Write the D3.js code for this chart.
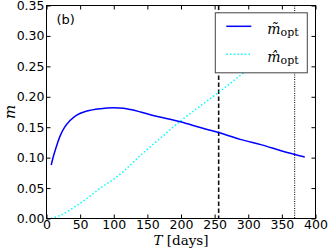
<!DOCTYPE html>
<html>
<head>
<meta charset="utf-8">
<script src="https://cdn.jsdelivr.net/npm/d3@7"></script>
<style>
  body { margin: 0; background: #fff; }
  .tick text { font-family: "DejaVu Sans", sans-serif; font-size: 12.5px; fill: #000; }
  .tick line { stroke: #000; }
  .domain { display: none; }
</style>
</head>
<body>
<div id="chart"></div>
<script>
// data
const tildeT = [7, 10, 14, 20, 27, 35, 45, 60, 80, 100, 115, 125, 140, 160, 180, 199, 230, 257, 288, 320, 350, 384];
const tildeM = [0.088, 0.101, 0.116, 0.135, 0.150, 0.161, 0.170, 0.1765, 0.1805, 0.182, 0.181, 0.179, 0.175, 0.169, 0.164, 0.159, 0.149, 0.141, 0.130, 0.121, 0.111, 0.101];
const hatT = [7, 20, 35, 50, 65, 80, 98, 115, 140, 162, 199, 230, 257, 288, 320, 350, 384];
const hatM = [0, 0.005, 0.014, 0.025, 0.037, 0.050, 0.063, 0.078, 0.104, 0.125, 0.160, 0.186, 0.208, 0.235, 0.262, 0.288, 0.318];
const markT = [256, 369];
const xTicks = [0, 50, 100, 150, 200, 250, 300, 350, 400];
const yTicks = [0, 0.05, 0.10, 0.15, 0.20, 0.25, 0.30, 0.35];
const seriesNames = ["\u0303", "\u0302"];

const W = 332, H = 249;
const margin = {top: 5.5, right: 16.5, bottom: 30.5, left: 46.5};
const width = W - margin.left - margin.right;
const height = H - margin.top - margin.bottom;

const svg = d3.select("#chart")
    .append("svg")
    .attr("width", W)
    .attr("height", H)
    .append("g")
    .attr("transform", `translate(${margin.left},${margin.top})`);

const x = d3.scaleLinear().domain([0, 400]).range([0, width]);
const y = d3.scaleLinear().domain([0, 0.35]).range([height, 0]);

svg.append("clipPath").attr("id", "clip")
    .append("rect").attr("width", width).attr("height", height);

// axes, ticks pointing in on all four sides
svg.append("g")
    .attr("transform", `translate(0,${height})`)
    .call(d3.axisBottom(x).tickValues(xTicks).tickSize(-4).tickPadding(2).tickFormat(d3.format("d")));
svg.append("g")
    .call(d3.axisTop(x).tickValues(xTicks).tickSize(-4).tickFormat(""));
svg.append("g")
    .call(d3.axisLeft(y).tickValues(yTicks).tickSize(-4).tickPadding(2).tickFormat(d3.format(".2f")));
svg.append("g")
    .attr("transform", `translate(${width},0)`)
    .call(d3.axisRight(y).tickValues(yTicks).tickSize(-4).tickFormat(""));

const plot = svg.append("g").attr("clip-path", "url(#clip)");

// vertical markers
plot.selectAll(".vmark")
    .data(markT)
    .enter().append("line")
    .attr("x1", d => x(d)).attr("x2", d => x(d))
    .attr("y1", 0).attr("y2", height)
    .attr("stroke", "#111")
    .attr("stroke-width", (d, i) => i == 0 ? 1.6 : 1.1)
    .attr("stroke-dasharray", (d, i) => i == 0 ? "4.5,2.5" : "1,1.3");

const line = d3.line().curve(d3.curveMonotoneX);

plot.append("path")
    .attr("d", line(hatT.map((t, i) => [x(t), y(hatM[i])])))
    .attr("fill", "none")
    .attr("stroke", "#00ffff")
    .attr("stroke-width", 1.5)
    .attr("stroke-dasharray", "1.5,2.2");

plot.append("path")
    .attr("d", line(tildeT.map((t, i) => [x(t), y(tildeM[i])])))
    .attr("fill", "none")
    .attr("stroke", "#0000ff")
    .attr("stroke-width", 1.5);

// frame
svg.append("rect")
    .attr("width", width).attr("height", height)
    .attr("fill", "none").attr("stroke", "#000").attr("stroke-width", 1);

// panel label
svg.append("text")
    .attr("x", 10).attr("y", 18)
    .style("font-family", "DejaVu Sans, sans-serif")
    .style("font-size", "13px")
    .text("(b)");

// axis labels
const xl = svg.append("text")
    .attr("x", width / 2)
    .attr("y", height + 26)
    .attr("text-anchor", "middle")
    .style("font-family", "DejaVu Serif, serif")
    .style("font-size", "13.5px");
xl.append("tspan").style("font-style", "italic").text("T");
xl.append("tspan").text(" [days]");

svg.append("text")
    .attr("transform", "rotate(-90)")
    .attr("x", -height / 2)
    .attr("y", -margin.left + 15)
    .attr("text-anchor", "middle")
    .style("font-family", "DejaVu Serif, serif")
    .style("font-style", "italic")
    .style("font-size", "15px")
    .text("m");

// legend
const lg = svg.append("g").attr("transform", `translate(${x(251)},${y(0.338)})`);
lg.append("rect")
    .attr("width", 92).attr("height", 60)
    .attr("fill", "#fff").attr("stroke", "#444").attr("stroke-width", 1);

const items = lg.selectAll(".legend")
    .data(seriesNames)
    .enter().append("g")
    .attr("class", "legend")
    .attr("transform", (d, i) => `translate(0,${13.5 + i * 28})`);

items.append("line")
    .attr("x1", 11).attr("x2", 36)
    .attr("stroke", (d, i) => i == 0 ? "#0000ff" : "#00ffff")
    .attr("stroke-width", 1.5)
    .attr("stroke-dasharray", (d, i) => i == 0 ? null : "1.5,2.2");

const lt = items.append("text")
    .attr("x", 52).attr("y", 8)
    .style("font-family", "DejaVu Serif, serif")
    .style("font-size", "14px");
lt.append("tspan").style("font-style", "italic").text(d => "m" + d);
lt.append("tspan").attr("dy", 2).style("font-size", "11px").text("opt");
</script>
</body>
</html>
